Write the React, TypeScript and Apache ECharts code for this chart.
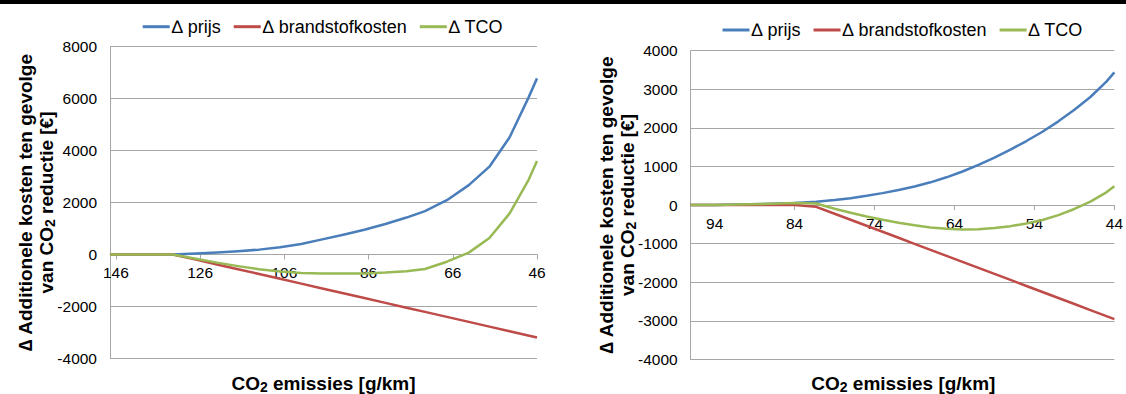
import React, { useEffect, useRef } from "react";
import * as echarts from "echarts";

// ---- data ----
const seriesNames = ["∆ prijs", "∆ brandstofkosten", "∆ TCO"];

// left chart: CO2 emissies [g/km]
const leftX = [147.4, 142, 137, 132.5, 127, 122, 117, 112, 107, 102, 97, 92, 87, 82, 77, 72.6, 67.4, 62.2, 57.3, 52.5, 48.1, 46];
const leftPrijs = [0, 0, 0, 0, 35, 70, 120, 185, 280, 400, 580, 760, 950, 1170, 1420, 1670, 2090, 2670, 3380, 4510, 6010, 6780];
const leftBrandstof = [0, 0, 0, 0, -200, -385, -570, -755, -940, -1125, -1310, -1495, -1680, -1865, -2050, -2213, -2405, -2597, -2779, -2956, -3119, -3197];
const leftTCO = [0, 0, 0, 0, -165, -315, -450, -570, -660, -715, -730, -735, -730, -700, -650, -560, -280, 70, 630, 1580, 2840, 3600];

// right chart
const rightX = [97, 94, 91, 88, 84, 81.3, 79, 77, 75, 73, 71, 69, 67, 65, 63, 61, 59, 57, 55, 53, 51, 49, 47, 45, 44];
const rightPrijs = [0, 5, 15, 30, 55, 85, 130, 180, 240, 310, 390, 480, 590, 720, 870, 1040, 1230, 1440, 1660, 1900, 2170, 2470, 2800, 3200, 3440];
const rightBrandstof = [0, 0, 0, 0, 0, -44, -223, -379, -535, -691, -847, -1003, -1159, -1315, -1471, -1627, -1783, -1939, -2095, -2251, -2407, -2563, -2719, -2875, -2953];
const rightTCO = [0, 5, 15, 30, 55, 41, -93, -199, -295, -381, -457, -523, -580, -615, -630, -625, -595, -545, -475, -385, -260, -100, 90, 330, 490];

const leftTickLabels = [146, 126, 106, 86, 66, 46];
const rightTickLabels = [94, 84, 74, 64, 54, 44];
const rightTickMarks = [84, 74, 64, 54, 44];

const yTitleLine1 = "∆ Additionele kosten ten gevolge";
const yTitleLine2 = "van CO{sub|2} reductie [€]";
const xTitle = "CO{sub|2} emissies [g/km]";

// ---- styles ----
const COLORS = ["#4A7EBB", "#BE4B48", "#98B954"];
const FONT = '"Liberation Sans", Arial, sans-serif';
const GRID_COLOR = "#A6A6A6";

function pairs(xs: number[], ys: number[]) {
  return xs.map((x, i) => [x, ys[i]]);
}

const subRich = {
  sub: { fontSize: 14, fontWeight: "bold", fontFamily: FONT, lineHeight: 9, verticalAlign: "bottom", fill: "#000" },
};

function yTitle(x1: number, x2: number, cy: number) {
  return [
    {
      type: "text",
      x: x1,
      y: cy,
      rotation: Math.PI / 2,
      style: { text: yTitleLine1, fontSize: 19, fontWeight: "bold", fontFamily: FONT, fill: "#000", align: "center", verticalAlign: "middle", lineHeight: 22 },
    },
    {
      type: "text",
      x: x2,
      y: cy,
      rotation: Math.PI / 2,
      style: { text: yTitleLine2, rich: subRich, fontSize: 19, fontWeight: "bold", fontFamily: FONT, fill: "#000", align: "center", verticalAlign: "middle", lineHeight: 22 },
    },
  ];
}

function xTitleEl(cx: number, cy: number) {
  return {
    type: "text",
    x: cx,
    y: cy,
    style: { text: xTitle, rich: subRich, fontSize: 19, fontWeight: "bold", fontFamily: FONT, fill: "#000", align: "center", verticalAlign: "middle", lineHeight: 22 },
  };
}

function xAxisDef(gridIndex: number, min: number, max: number, labels: number[], ticks: number[], offset: number) {
  return {
    gridIndex,
    type: "value",
    inverse: true,
    min,
    max,
    position: "bottom",
    offset,
    axisLine: { show: true, onZero: false, lineStyle: { color: GRID_COLOR, width: 1 } },
    axisTick: { show: true, customValues: ticks, length: 5, lineStyle: { color: GRID_COLOR } },
    axisLabel: { customValues: labels, color: "#000", fontSize: 15.5, fontFamily: FONT, margin: 10, formatter: (v: number) => String(v) },
    splitLine: { show: false },
  };
}

function yAxisDef(gridIndex: number, min: number, max: number, interval: number) {
  return {
    gridIndex,
    type: "value",
    min,
    max,
    interval,
    axisLine: { show: true, onZero: false, lineStyle: { color: GRID_COLOR, width: 1 } },
    axisTick: { show: false },
    axisLabel: { color: "#000", fontSize: 15.5, fontFamily: FONT, margin: 13, formatter: (v: number) => String(v) },
    splitLine: { show: true, lineStyle: { color: GRID_COLOR, width: 1 } },
  };
}

function lineSeries(name: string, idx: number, data: number[][], colorIdx: number) {
  return {
    name,
    type: "line",
    xAxisIndex: idx,
    yAxisIndex: idx,
    data,
    symbol: "none",
    showSymbol: false,
    smooth: false,
    color: COLORS[colorIdx],
    lineStyle: { color: COLORS[colorIdx], width: 2.5, join: "round" },
    z: 3 + colorIdx,
  };
}

function legendDef(left: number, top: number) {
  return {
    data: seriesNames,
    left,
    top,
    orient: "horizontal",
    icon: "rect",
    itemWidth: 27,
    itemHeight: 3,
    itemGap: 13,
    selectedMode: false,
    textStyle: { color: "#000", fontSize: 18, fontFamily: FONT, padding: [0, 0, 0, -3] },
  };
}

export default function App() {
  const ref = useRef<HTMLDivElement>(null);

  useEffect(() => {
    if (!ref.current) return;
    const chart = echarts.init(ref.current, undefined, { renderer: "svg" });
    const option = {
      animation: false,
      backgroundColor: "#ffffff",
      legend: [legendDef(137.7, 12.7), legendDef(717.5, 16)],
      grid: [
        { left: 110, top: 46.7, width: 427, height: 311.6, containLabel: false },
        { left: 690.7, top: 50.7, width: 425.3, height: 308.8, containLabel: false },
      ],
      xAxis: [
        xAxisDef(0, 46, 147.4, leftTickLabels, leftTickLabels, -103.9),
        xAxisDef(1, 44, 97, rightTickLabels, rightTickMarks, -154.4),
      ],
      yAxis: [yAxisDef(0, -4000, 8000, 2000), yAxisDef(1, -4000, 4000, 1000)],
      series: [
        lineSeries(seriesNames[0], 0, pairs(leftX, leftPrijs), 0),
        lineSeries(seriesNames[1], 0, pairs(leftX, leftBrandstof), 1),
        lineSeries(seriesNames[2], 0, pairs(leftX, leftTCO), 2),
        lineSeries(seriesNames[0], 1, pairs(rightX, rightPrijs), 0),
        lineSeries(seriesNames[1], 1, pairs(rightX, rightBrandstof), 1),
        lineSeries(seriesNames[2], 1, pairs(rightX, rightTCO), 2),
      ],
      graphic: [
        { type: "rect", shape: { x: 0, y: 0, width: 1126, height: 4 }, style: { fill: "#000" } },
        ...yTitle(25, 46, 202.5),
        ...yTitle(606, 627, 205),
        xTitleEl(323.5, 383),
        xTitleEl(903.3, 383),
      ],
    };
    chart.setOption(option as any);
    return () => chart.dispose();
  }, []);

  return (
    <div
      ref={ref}
      style={{ position: "absolute", left: 0, top: 0, width: 1126, height: 394, background: "#fff" }}
    />
  );
}
